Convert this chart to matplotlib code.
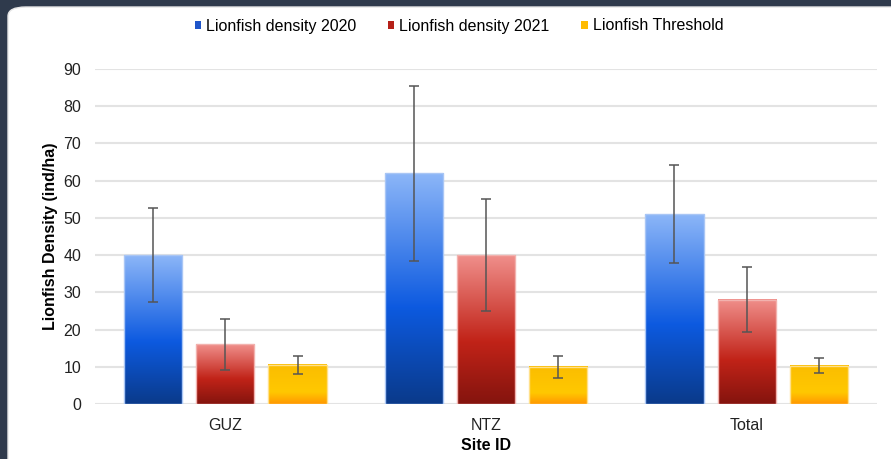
import matplotlib
matplotlib.use("Agg")
import matplotlib.pyplot as plt
import numpy as np
from matplotlib.colors import LinearSegmentedColormap
from matplotlib.patches import FancyBboxPatch

plt.rcParams['font.family'] = ['Liberation Sans', 'DejaVu Sans']

categories = ["GUZ", "NTZ", "Total"]
series_names = ["Lionfish density 2020", "Lionfish density 2021", "Lionfish Threshold"]
density_2020 = [40, 62, 51]
err_2020 = [12.7, 23.5, 13.1]
density_2021 = [16, 40, 28]
err_2021 = [6.9, 15.0, 8.7]
threshold = [10.5, 10.0, 10.3]
err_threshold = [2.5, 2.9, 2.0]
yticks = [0, 10, 20, 30, 40, 50, 60, 70, 80, 90]

values = [density_2020, density_2021, threshold]
errors = [err_2020, err_2021, err_threshold]

cmaps = [
    LinearSegmentedColormap.from_list("b", [(0, "#0a3a8a"), (0.42, "#0d5ae0"), (1.0, "#8cb6f8")]),
    LinearSegmentedColormap.from_list("r", [(0, "#84140e"), (0.42, "#c12318"), (1.0, "#f08f8b")]),
    LinearSegmentedColormap.from_list("y", [(0, "#ff9800"), (0.3, "#ffc800"), (1.0, "#fbbd00")]),
]
edgecols = ["#a9c6f5", "#f2b2ae", "#ffe08a"]
legend_cols = ["#1f55c9", "#b52018", "#ffbb00"]

W, H = 891, 459
fig = plt.figure(figsize=(W / 100, H / 100), dpi=100)
fig.patch.set_facecolor("#2f3a4c")
panel = FancyBboxPatch((8 / W, -0.05), 1.2, (459 - 7) / H + 0.05,
                       boxstyle="round,pad=0,rounding_size=0.02",
                       transform=fig.transFigure, facecolor="white", edgecolor="#e6e6e6", lw=1.0,
                       zorder=-5)
fig.patches.append(panel)

ax = fig.add_axes([95 / W, (H - 404) / H, (877 - 95) / W, (404 - 69) / H])
ax.set_zorder(1)
ax.set_facecolor("none")
x = np.arange(len(categories))
step = 0.277
width = 0.223

for i in range(3):
    pos = x + (i - 1) * step
    bars = ax.bar(pos, values[i], width=width, color="none", edgecolor=edgecols[i], lw=1.0, zorder=3)
    grad = np.linspace(0, 1, 256).reshape(-1, 1)
    for b in bars:
        x0, y0 = b.get_x(), b.get_y()
        w, h = b.get_width(), b.get_height()
        ax.imshow(grad, extent=[x0, x0 + w, y0, y0 + h], origin="lower", aspect="auto",
                  cmap=cmaps[i], zorder=2, interpolation="bilinear")
    ax.errorbar(pos, values[i], yerr=errors[i], fmt="none", ecolor="#555555", elinewidth=1.1,
                capsize=3.5, capthick=1.1, zorder=4)
    ax.bar([np.nan], [np.nan], color=legend_cols[i], label=series_names[i])

ax.set_xlim(-0.5, 2.5)
ax.set_ylim(0, 90)
ax.set_yticks(yticks)
ax.yaxis.grid(True, color="#e3e3e3", lw=1.5, zorder=0)
ax.set_axisbelow(True)
for s in ax.spines.values():
    s.set_visible(False)
ax.tick_params(length=0, labelsize=11.5, colors="#222222", pad=10)
ax.tick_params(axis="x", pad=10)
ax.set_xticks(x)
ax.set_xticklabels(categories)
ax.set_xlabel("Site ID", fontsize=11.5, fontweight="bold", labelpad=4)
ax.set_ylabel("Lionfish Density (ind/ha)", fontsize=11.5, fontweight="bold", labelpad=4)

fig.legend(loc="center", bbox_to_anchor=(459 / W, (H - 26) / H), ncol=3, frameon=False,
           fontsize=11.5, handlelength=0.4, handleheight=0.4, handletextpad=0.3, columnspacing=2.0)

fig.savefig("out.png", dpi=100)
